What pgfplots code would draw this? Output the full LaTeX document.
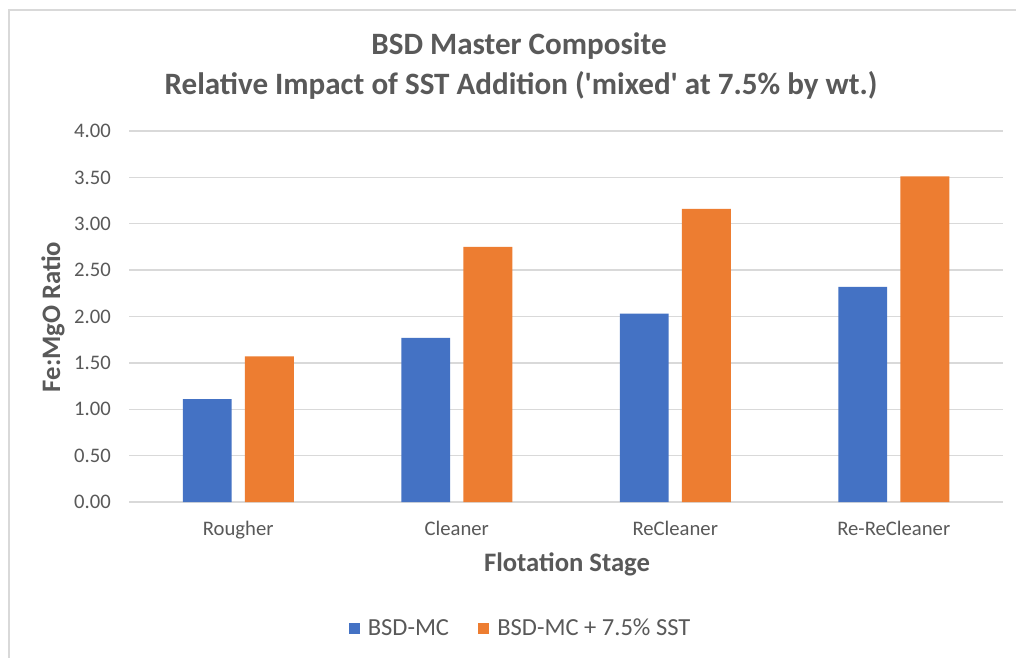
\documentclass[border=0pt]{standalone}
\usepackage{fontspec}
\setmainfont{Carlito}
\usepackage{pgfplots}
\pgfplotsset{compat=1.18}
\definecolor{txt}{HTML}{595959}
\definecolor{gridc}{HTML}{D9D9D9}
\definecolor{bblue}{HTML}{4472C4}
\definecolor{borange}{HTML}{ED7D31}
\newcommand\sq{\XeTeXglyph\XeTeXcharglyph"27\relax}
\begin{document}
\begin{tikzpicture}
\path[use as bounding box] (0pt,0pt) rectangle (762pt,492.75pt);
\fill[white] (0pt,0pt) rectangle (762pt,492.75pt);
\draw[gridc, line width=1.5pt] (6.75pt,-7.5pt) rectangle (772.5pt,485.25pt);
\node[font=\fontsize{23.3}{27}\selectfont\bfseries, text=txt] at (389.25pt,458.25pt) {BSD Master Composite};
\node[font=\fontsize{23.3}{27}\selectfont\bfseries, text=txt] at (390.75pt,429pt) {Relative Impact of SST Addition (\sq mixed\sq{} at 7.5\% by wt.)};
\node[font=\fontsize{20}{24}\selectfont\bfseries, text=txt] at (425.25pt,69.75pt) {Flotation Stage};
\node[font=\fontsize{20}{24}\selectfont\bfseries, text=txt, rotate=90] at (39.75pt,255pt) {Fe:MgO Ratio};
\begin{axis}[
  at={(96.75pt,116.25pt)}, anchor=south west,
  width=655.5pt, height=278.25pt, scale only axis,
  xmin=-0.5, xmax=3.5, ymin=0, ymax=4,
  axis x line*=bottom, axis y line*=left,
  x axis line style={gridc, line width=1.1pt, -},
  y axis line style={draw=none},
  major tick length=0pt,
  ytick={0,0.5,1,1.5,2,2.5,3,3.5,4},
  xtick={0,1,2,3},
  xticklabels={Rougher,Cleaner,ReCleaner,Re-ReCleaner},
  ymajorgrids, major grid style={gridc, line width=1.1pt},
  /pgf/number format/assume math mode=true,
  yticklabel={\pgfmathprintnumber[fixed,fixed zerofill,precision=2]{\tick}},
  yticklabel style={font=\fontsize{15.5}{18}\selectfont, text=txt, anchor=east, inner sep=0pt, xshift=-13.5pt},
  xticklabel style={font=\fontsize{15.5}{18}\selectfont, text=txt, anchor=base, inner sep=0pt, yshift=-24.75pt},
  legend style={at={(0.4485,-0.34)}, anchor=center, draw=none, legend columns=2,
    font=\fontsize{18.4}{22}\selectfont, text=txt,
    /tikz/every odd column/.append style={column sep=4pt},
    /tikz/every even column/.append style={column sep=20pt}},
  legend image code/.code={\fill[#1] (0pt,-4.1pt) rectangle (8.2pt,4.1pt);},
]
\addplot[ybar, fill=bblue, draw=none, bar width=0.224, bar shift=-0.142] coordinates {(0,1.11) (1,1.77) (2,2.03) (3,2.32)};
\addlegendentry{BSD-MC}
\addplot[ybar, fill=borange, draw=none, bar width=0.224, bar shift=0.142] coordinates {(0,1.57) (1,2.75) (2,3.16) (3,3.51)};
\addlegendentry{BSD-MC + 7.5\% SST}
\end{axis}
\end{tikzpicture}
\end{document}
